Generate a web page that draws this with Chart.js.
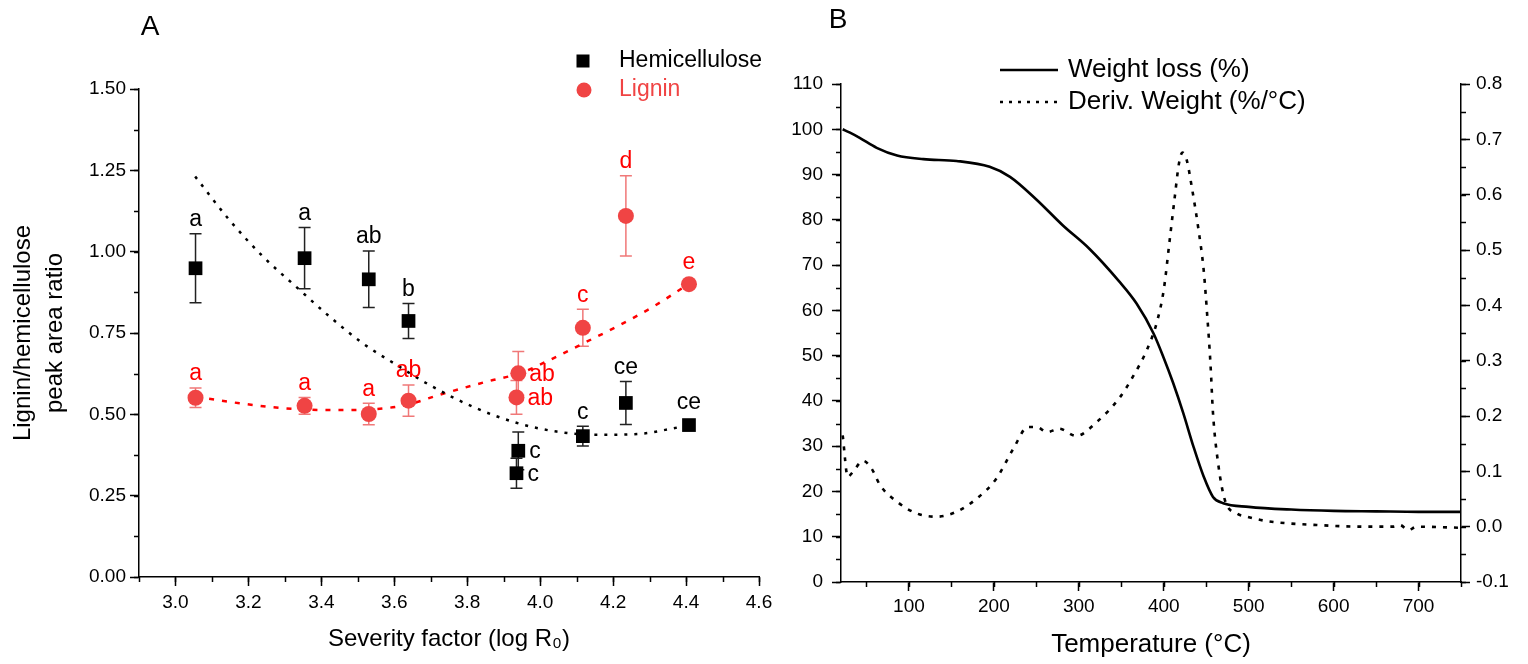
<!DOCTYPE html>
<html>
<head>
<meta charset="utf-8">
<script src="https://cdn.jsdelivr.net/npm/chart.js@4.4.1/dist/chart.umd.min.js"></script>
<style>
  html, body { margin: 0; padding: 0; background: #fff; }
  #wrapA { position: absolute; left: 0; top: 0; width: 780px; height: 664px; }
  #wrapB { position: absolute; left: 780px; top: 0; width: 748px; height: 664px; }
</style>
</head>
<body>
<div id="wrapA"><canvas id="chartA" width="780" height="664"></canvas></div>
<div id="wrapB"><canvas id="chartB" width="748" height="664"></canvas></div>
<script>
// ---- panel A data ----
const hemiX = [3.055, 3.354, 3.53, 3.639, 3.94, 3.935, 4.117, 4.235, 4.408];
const hemiY = [0.949, 0.98, 0.915, 0.787, 0.388, 0.319, 0.433, 0.535, 0.467];
const hemiErr = [0.106, 0.094, 0.087, 0.054, 0.058, 0.046, 0.03, 0.066, 0];
const hemiLetters = ['a', 'a', 'ab', 'b', 'c', 'c', 'c', 'ce', 'ce'];
const hemiLetterPos = ['top', 'top', 'top', 'top', 'right', 'right', 'top', 'top', 'top'];

const ligX = [3.055, 3.354, 3.53, 3.639, 3.94, 3.935, 4.117, 4.235, 4.408];
const ligY = [0.551, 0.526, 0.501, 0.542, 0.626, 0.552, 0.766, 1.11, 0.9];
const ligErr = [0.03, 0.026, 0.033, 0.048, 0.067, 0.052, 0.057, 0.123, 0];
const ligLetters = ['a', 'a', 'a', 'ab', 'ab', 'ab', 'c', 'd', 'e'];
const ligLetterPos = ['top', 'top', 'top', 'top', 'right', 'right', 'top', 'top', 'top'];

// dotted trend lines
const hemiTrendX = [3.054, 3.148, 3.24, 3.331, 3.423, 3.514, 3.606, 3.697, 3.816, 3.935, 4.045, 4.155, 4.273, 4.365, 4.408];
const hemiTrendY = [1.231, 1.097, 0.985, 0.892, 0.80, 0.718, 0.652, 0.59, 0.523, 0.474, 0.447, 0.437, 0.44, 0.457, 0.467];
const ligTrendX = [3.057, 3.176, 3.294, 3.423, 3.532, 3.633, 3.724, 3.862, 3.944, 4.026, 4.118, 4.209, 4.31, 4.406];
const ligTrendY = [0.554, 0.534, 0.519, 0.513, 0.515, 0.529, 0.56, 0.603, 0.626, 0.667, 0.718, 0.769, 0.831, 0.90];

const xTicksA = [3.0, 3.2, 3.4, 3.6, 3.8, 4.0, 4.2, 4.4, 4.6];
const yTicksA = [0, 0.25, 0.5, 0.75, 1.0, 1.25, 1.5];

// ---- panel B data ----
const tempW = [22, 30, 42, 62, 86, 117, 156, 195, 219, 250, 281, 313, 347, 368, 388, 400, 411, 423, 435, 447, 458, 470, 500, 550, 600, 650, 700, 750];
const weightLoss = [100, 99.3, 98.1, 95.9, 94.2, 93.4, 93.0, 91.7, 89.5, 84.5, 78.8, 73.5, 66.5, 61.5, 54.9, 49.5, 44.0, 37.3, 29.9, 23.3, 18.8, 17.4, 16.6, 16.0, 15.7, 15.6, 15.5, 15.5];

const tempD = [22, 28, 34, 46, 56, 66, 86, 109, 133, 156, 180, 203, 223, 240, 250, 263, 277, 297, 321, 348, 364, 380, 392, 400, 407, 413, 418, 422, 427, 433, 441, 447, 451, 455, 458, 464, 472, 486, 498, 522, 580, 640, 670, 678, 688, 698, 750];
const derivWeight = [0.165, 0.09, 0.099, 0.119, 0.105, 0.075, 0.045, 0.024, 0.018, 0.027, 0.051, 0.087, 0.141, 0.18, 0.18, 0.171, 0.177, 0.164, 0.189, 0.233, 0.272, 0.319, 0.37, 0.428, 0.518, 0.596, 0.657, 0.676, 0.663, 0.614, 0.536, 0.464, 0.386, 0.295, 0.205, 0.115, 0.048, 0.024, 0.018, 0.01, 0.003, 0.0, 0.0, 0.003, -0.006, 0.0, -0.002];

const xTicksB = [100, 200, 300, 400, 500, 600, 700];
const yTicksB = [0, 10, 20, 30, 40, 50, 60, 70, 80, 90, 100, 110];
const y2TicksB = [-0.1, 0, 0.1, 0.2, 0.3, 0.4, 0.5, 0.6, 0.7, 0.8];

const FONT = "'Liberation Sans', Arial, sans-serif";
Chart.defaults.font.family = FONT;
Chart.defaults.color = '#000';
Chart.defaults.animation = false;

const RED = '#f04444';

const toPoints = function(xs, ys){
  return xs.map((x, i) => ({ x: x, y: ys[i] }));
};

const setTicks = function(list){
  return function(scale){
    scale.ticks = list.map(v => ({ value: v }));
  };
};

// short minor ticks between the major ones
const minorTicks = {
  id: 'minorTicks',
  afterDraw(chart, args, opts) {
    const ctx = chart.ctx;
    ctx.save();
    ctx.strokeStyle = '#000';
    ctx.lineWidth = 1.5;
    for (const id in opts.scales) {
      const s = chart.scales[id];
      const step = opts.scales[id].step;
      const len = opts.scales[id].len;
      const n0 = Math.ceil(s.min / step - 1e-6);
      const n1 = Math.floor(s.max / step + 1e-6);
      for (let n = n0; n <= n1; n++) {
        const p = Math.round(s.getPixelForValue(n * step)) + 0.5;
        ctx.beginPath();
        if (s.isHorizontal()) {
          ctx.moveTo(p, s.top); ctx.lineTo(p, s.top + len);
        } else if (s.position === 'left') {
          ctx.moveTo(s.right, p); ctx.lineTo(s.right - len, p);
        } else {
          ctx.moveTo(s.left, p); ctx.lineTo(s.left + len, p);
        }
        ctx.stroke();
      }
    }
    ctx.restore();
  }
};

// error bars and significance letters for panel A
const errorBars = {
  id: 'errorBars',
  beforeDatasetsDraw(chart) {
    const ctx = chart.ctx;
    const yScale = chart.scales.y;
    chart.data.datasets.forEach((ds, i) => {
      if (!ds.errors) return;
      const meta = chart.getDatasetMeta(i);
      ctx.save();
      ctx.strokeStyle = ds.errColor;
      ctx.lineWidth = 1.5;
      meta.data.forEach((pt, j) => {
        const e = ds.errors[j];
        if (!e) return;
        const v = ds.data[j].y;
        const top = yScale.getPixelForValue(v + e);
        const bot = yScale.getPixelForValue(v - e);
        ctx.beginPath();
        ctx.moveTo(pt.x, top); ctx.lineTo(pt.x, bot);
        ctx.moveTo(pt.x - 6, top); ctx.lineTo(pt.x + 6, top);
        ctx.moveTo(pt.x - 6, bot); ctx.lineTo(pt.x + 6, bot);
        ctx.stroke();
      });
      ctx.restore();
    });
  },
  afterDatasetsDraw(chart) {
    const ctx = chart.ctx;
    const yScale = chart.scales.y;
    chart.data.datasets.forEach((ds, i) => {
      if (!ds.letters) return;
      const meta = chart.getDatasetMeta(i);
      ctx.save();
      ctx.fillStyle = ds.letterColor;
      ctx.font = '23px ' + FONT;
      ctx.textBaseline = 'middle';
      meta.data.forEach((pt, j) => {
        const v = ds.data[j].y;
        if (ds.letterPos[j] === 'right') {
          ctx.textAlign = 'left';
          ctx.fillText(ds.letters[j], pt.x + 11, pt.y + 1);
        } else {
          const top = Math.min(yScale.getPixelForValue(v + ds.errors[j]), pt.y - 8);
          ctx.textAlign = 'center';
          ctx.fillText(ds.letters[j], pt.x, top - 14);
        }
      });
      ctx.restore();
    });
  }
};

// legend and panel letter drawn at fixed spots
const overlay = {
  id: 'overlay',
  afterDraw(chart, args, opts) {
    const ctx = chart.ctx;
    ctx.save();
    ctx.textBaseline = 'middle';
    for (const it of opts.items) {
      if (it.square) {
        ctx.fillStyle = it.color;
        ctx.fillRect(it.square[0] - 6.5, it.square[1] - 6.5, 13, 13);
      }
      if (it.circle) {
        ctx.fillStyle = it.color;
        ctx.beginPath();
        ctx.arc(it.circle[0], it.circle[1], 7.5, 0, Math.PI * 2);
        ctx.fill();
      }
      if (it.line) {
        ctx.strokeStyle = '#000';
        ctx.lineWidth = 2.5;
        ctx.setLineDash(it.dash || []);
        ctx.beginPath();
        ctx.moveTo(it.line[0], it.line[2]);
        ctx.lineTo(it.line[1], it.line[2]);
        ctx.stroke();
        ctx.setLineDash([]);
      }
      if (it.text) {
        ctx.fillStyle = it.color || '#000';
        ctx.font = it.size + 'px ' + FONT;
        ctx.textAlign = it.align || 'left';
        ctx.fillText(it.text, it.x, it.y);
      }
    }
    ctx.restore();
  }
};

const axisGrid = { drawOnChartArea: false, tickLength: 9, tickWidth: 1.5, tickColor: '#000' };
const axisBorder = { color: '#000', width: 1.5 };

// ---- panel A ----
new Chart(document.getElementById('chartA'), {
  type: 'scatter',
  data: {
    datasets: [
      {
        label: 'Hemicellulose',
        data: toPoints(hemiX, hemiY),
        pointStyle: 'rect',
        pointRadius: 9.7,
        backgroundColor: '#000',
        borderWidth: 0,
        errors: hemiErr,
        errColor: '#222',
        letters: hemiLetters,
        letterPos: hemiLetterPos,
        letterColor: '#000',
      },
      {
        label: 'Lignin',
        data: toPoints(ligX, ligY),
        pointStyle: 'circle',
        pointRadius: 8,
        backgroundColor: RED,
        borderWidth: 0,
        errors: ligErr,
        errColor: '#f07878',
        letters: ligLetters,
        letterPos: ligLetterPos,
        letterColor: '#ff0000',
      },
      {
        label: 'hemi fit',
        data: toPoints(hemiTrendX, hemiTrendY),
        showLine: true,
        borderColor: '#000',
        borderWidth: 2.5,
        borderDash: [3, 7],
        pointRadius: 0,
        cubicInterpolationMode: 'monotone',
      },
      {
        label: 'lignin fit',
        data: toPoints(ligTrendX, ligTrendY),
        showLine: true,
        borderColor: '#ff0000',
        borderWidth: 2.5,
        borderDash: [5, 8],
        pointRadius: 0,
        cubicInterpolationMode: 'monotone',
      },
    ]
  },
  options: {
    responsive: false,
    layout: { padding: { left: 0, top: 89, right: 21, bottom: 0 } },
    scales: {
      x: {
        type: 'linear',
        min: 2.9,
        max: 4.6,
        afterBuildTicks: setTicks(xTicksA),
        afterFit: (s) => { s.height = 87; },
        ticks: { font: { size: 19 }, padding: 5, maxRotation: 0, autoSkip: false, callback: (v) => v.toFixed(1) },
        grid: axisGrid,
        border: axisBorder,
        title: { display: true, text: 'Severity factor (log R\u2080)', font: { size: 24 }, padding: { top: 0, bottom: 10 } },
      },
      y: {
        min: 0,
        max: 1.5,
        afterBuildTicks: setTicks(yTicksA),
        afterFit: (s) => { s.width = 139; },
        ticks: { font: { size: 19 }, padding: 4, callback: (v) => v.toFixed(2) },
        grid: axisGrid,
        border: axisBorder,
        title: { display: true, text: ['Lignin/hemicellulose', 'peak area ratio'], font: { size: 24, lineHeight: 1.35 }, padding: { top: 7 } },
      }
    },
    plugins: {
      legend: { display: false },
      tooltip: { enabled: false },
      minorTicks: { scales: { x: { step: 0.1, len: 5 }, y: { step: 0.125, len: 5 } } },
      overlay: {
        items: [
          { text: 'A', x: 150, y: 27, size: 28, align: 'center' },
          { square: [583, 61], color: '#000', text: 'Hemicellulose', x: 619, y: 61, size: 23 },
          { circle: [584, 90], color: RED, text: 'Lignin', x: 619, y: 90, size: 23 },
        ]
      }
    }
  },
  plugins: [minorTicks, errorBars, overlay]
});

// ---- panel B ----
new Chart(document.getElementById('chartB'), {
  type: 'scatter',
  data: {
    datasets: [
      {
        label: 'Weight loss (%)',
        data: toPoints(tempW, weightLoss),
        showLine: true,
        borderColor: '#000',
        borderWidth: 2.6,
        pointRadius: 0,
        cubicInterpolationMode: 'monotone',
        yAxisID: 'y',
      },
      {
        label: 'Deriv. Weight (%/°C)',
        data: toPoints(tempD, derivWeight),
        showLine: true,
        borderColor: '#000',
        borderWidth: 2.6,
        borderDash: [4, 7],
        pointRadius: 0,
        cubicInterpolationMode: 'monotone',
        yAxisID: 'y2',
      },
    ]
  },
  options: {
    responsive: false,
    layout: { padding: { left: 0, top: 84, right: 0, bottom: 0 } },
    scales: {
      x: {
        type: 'linear',
        min: 20,
        max: 750,
        afterBuildTicks: setTicks(xTicksB),
        afterFit: (s) => { s.height = 82; },
        ticks: { font: { size: 19 }, padding: 4, maxRotation: 0, autoSkip: false },
        grid: axisGrid,
        border: axisBorder,
        title: { display: true, text: 'Temperature (°C)', font: { size: 26 }, padding: { top: 0, bottom: 4 } },
      },
      y: {
        position: 'left',
        min: 0,
        max: 110,
        afterBuildTicks: setTicks(yTicksB),
        afterFit: (s) => { s.width = 61; },
        ticks: { font: { size: 19 }, padding: 9 },
        grid: axisGrid,
        border: axisBorder,
      },
      y2: {
        position: 'right',
        min: -0.1,
        max: 0.8,
        afterBuildTicks: setTicks(y2TicksB),
        afterFit: (s) => { s.width = 67; },
        ticks: { font: { size: 19 }, padding: 6, callback: (v) => v.toFixed(1) },
        grid: axisGrid,
        border: axisBorder,
      }
    },
    plugins: {
      legend: { display: false },
      tooltip: { enabled: false },
      minorTicks: { scales: { x: { step: 50, len: 5 }, y: { step: 5, len: 5 }, y2: { step: 0.05, len: 5 } } },
      overlay: {
        items: [
          { text: 'B', x: 58, y: 20, size: 28, align: 'center' },
          { line: [220, 278, 70], text: 'Weight loss (%)', x: 288, y: 70, size: 26 },
          { line: [220, 278, 102], dash: [3, 6], text: 'Deriv. Weight (%/°C)', x: 288, y: 102, size: 26 },
        ]
      }
    }
  },
  plugins: [minorTicks, overlay]
});
</script>
</body>
</html>
